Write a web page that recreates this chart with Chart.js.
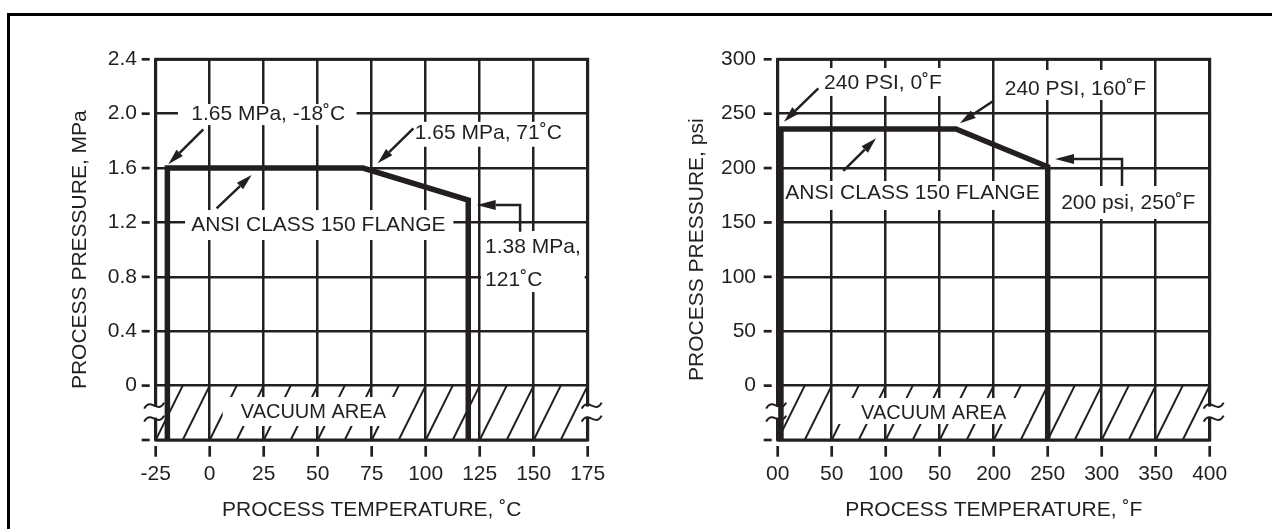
<!DOCTYPE html>
<html>
<head>
<meta charset="utf-8">
<script src="https://cdn.jsdelivr.net/npm/chart.js@4.4.1/dist/chart.umd.min.js"></script>
<style>
html, body { margin: 0; padding: 0; background: #fff; }
body { width: 1272px; height: 529px; position: relative; overflow: hidden; }
#frame { position: absolute; left: 7px; top: 13px; width: 1300px; height: 600px;
  border-left: 3px solid #000; border-top: 3px solid #000; box-sizing: border-box; }
canvas { position: absolute; top: 0; width: 636px; height: 529px; }
#c1 { left: 0; }
#c2 { left: 636px; }
</style>
</head>
<body>
<div id="frame"></div>
<canvas id="c1" width="636" height="529"></canvas>
<canvas id="c2" width="636" height="529"></canvas>
<script>
// ---------------- data ----------------
const celsiusTicks = [-25, 0, 25, 50, 75, 100, 125, 150, 175];
const celsiusTickLabels = ['-25', '0', '25', '50', '75', '100', '125', '150', '175'];
const mpaTicks = [-0.4, 0, 0.4, 0.8, 1.2, 1.6, 2.0, 2.4];
const mpaTickLabels = ['', '0', '0.4', '0.8', '1.2', '1.6', '2.0', '2.4'];

const fahrenheitTicks = [0, 50, 100, 150, 200, 250, 300, 350, 400];
const fahrenheitTickLabels = ['00', '50', '100', '50', '200', '250', '300', '350', '400'];
const psiTicks = [-50, 0, 50, 100, 150, 200, 250, 300];
const psiTickLabels = ['', '0', '50', '100', '150', '200', '250', '300'];

const flangeTempC = [-19.6, -19.6, 71, 119.7, 119.7];
const flangeMPa = [-0.4, 1.6, 1.6, 1.365, -0.4];
const flangeTempF = [3, 3, 165, 250, 250];
const flangePsi = [-50, 236, 236, 201.2, -50];

// ---------------- styling ----------------
const INK = '#231f20';
const FONT = '"Liberation Sans", Arial, Helvetica, sans-serif';
Chart.defaults.font.family = FONT;
Chart.defaults.color = INK;

// annotations (positions in data units of each chart)
const decorations = {
  c1: {
    hatchStep: 12.5,
    boxes: [[-14.7, 2.071, 68, 1.916], [91.8, 1.94, 166.8, 1.757], [-11.4, 1.291, 112.8, 1.071],
            [125.6, 1.137, 173.6, 0.688], [6, -0.084, 90, -0.297]],
    texts: [
      { text: '1.65 MPa, -18˚C', at: [27.1, 1.996], align: 'center' },
      { text: '1.65 MPa, 71˚C', at: [129, 1.855], align: 'center' },
      { text: 'ANSI CLASS 150 FLANGE', at: [50.3, 1.18], align: 'center' },
      { text: '1.38 MPa,', at: [127.5, 1.021], align: 'left' },
      { text: '121˚C', at: [127.5, 0.776], align: 'left' },
      { text: 'VACUUM AREA', at: [48, -0.2], align: 'center', size: 20 }
    ],
    arrows: [
      { pts: [[-2.96, 1.885], [-19.17, 1.629]], head: [16, 9] },
      { pts: [[94.3, 1.892], [77.8, 1.635]], head: [16, 9] },
      { pts: [[3.2, 1.304], [19.4, 1.549]], head: [16, 9] },
      { pts: [[143.7, 1.132], [143.7, 1.328], [123.6, 1.328]], head: [19, 10] }
    ]
  },
  c2: {
    hatchStep: 25,
    boxes: [[39.2, 292, 159.5, 266.3], [205.8, 290.2, 344.7, 262.6], [4.9, 188.1, 245.6, 161.5],
            [256.8, 183.5, 392.6, 153.2], [55, -11.4, 232, -35.3]],
    texts: [
      { text: '240 PSI, 0˚F', at: [97.5, 277.6], align: 'center' },
      { text: '240 PSI, 160˚F', at: [275.6, 272.5], align: 'center' },
      { text: 'ANSI CLASS 150 FLANGE', at: [124.8, 177.1], align: 'center' },
      { text: '200 psi, 250˚F', at: [324.6, 167.3], align: 'center' },
      { text: 'VACUUM AREA', at: [144.4, -25.2], align: 'center', size: 20 }
    ],
    arrows: [
      { pts: [[37.6, 273.3], [5.8, 242.6]], head: [16, 9] },
      { pts: [[200.3, 262.2], [168.7, 241.3]], head: [16, 9] },
      { pts: [[60.7, 197.4], [91.1, 227.4]], head: [16, 9] },
      { pts: [[318.8, 183.5], [318.8, 208.3], [256.8, 208.3]], head: [19, 10] }
    ]
  }
};

function drawArrow(ctx, pts, len, wid) {
  const n = pts.length;
  const tip = pts[n - 1], prev = pts[n - 2];
  const ang = Math.atan2(tip[1] - prev[1], tip[0] - prev[0]);
  const c = Math.cos(ang), s = Math.sin(ang);
  const bx = tip[0] - len * c, by = tip[1] - len * s;
  ctx.beginPath();
  ctx.moveTo(pts[0][0], pts[0][1]);
  for (let i = 1; i < n - 1; i++) ctx.lineTo(pts[i][0], pts[i][1]);
  ctx.lineTo(bx, by);
  ctx.stroke();
  ctx.beginPath();
  ctx.moveTo(tip[0], tip[1]);
  ctx.lineTo(bx + (wid / 2) * s, by - (wid / 2) * c);
  ctx.lineTo(bx - (wid / 2) * s, by + (wid / 2) * c);
  ctx.closePath();
  ctx.fill();
}

function tilde(ctx, cx, cy, w) {
  ctx.beginPath();
  ctx.moveTo(cx - w / 2, cy + 3);
  ctx.bezierCurveTo(cx - w / 6, cy - 9, cx + w / 6, cy + 9, cx + w / 2, cy - 3);
  ctx.stroke();
}

const decorPlugin = {
  id: 'decor',
  beforeDatasetsDraw(chart) {
    const d = decorations[chart.canvas.id];
    const { ctx, chartArea: ca } = chart;
    const xs = chart.scales.x, ys = chart.scales.y;
    const P = (x, y) => [xs.getPixelForValue(x), ys.getPixelForValue(y)];
    ctx.save();
    // hatch of the vacuum area
    ctx.beginPath();
    ctx.rect(ca.left, ca.top, ca.right - ca.left, ca.bottom - ca.top);
    ctx.clip();
    ctx.strokeStyle = INK;
    ctx.lineWidth = 2;
    for (let t = xs.min; t <= xs.max; t += d.hatchStep) {
      ctx.beginPath();
      ctx.moveTo(xs.getPixelForValue(t), ys.getPixelForValue(ys.min));
      ctx.lineTo(xs.getPixelForValue(t + d.hatchStep), ys.getPixelForValue(0));
      ctx.stroke();
    }
    ctx.restore();
    ctx.save();
    // plot frame
    ctx.strokeStyle = INK;
    ctx.lineWidth = 3;
    ctx.strokeRect(ca.left, ca.top, ca.right - ca.left, ca.bottom - ca.top);
    // white label boxes
    ctx.fillStyle = '#fff';
    d.boxes.forEach(b => {
      const [x1, y1] = P(b[0], b[1]);
      const [x2, y2] = P(b[2], b[3]);
      ctx.fillRect(Math.min(x1, x2), Math.min(y1, y2), Math.abs(x2 - x1), Math.abs(y2 - y1));
    });
    // break gaps in the frame
    const y0 = ys.getPixelForValue(0);
    [ca.left, ca.right].forEach(x => ctx.fillRect(x - 3, y0 + 21, 6, 11));
    ctx.restore();
  },
  afterDatasetsDraw(chart) {
    const d = decorations[chart.canvas.id];
    const { ctx, chartArea: ca } = chart;
    const xs = chart.scales.x, ys = chart.scales.y;
    const P = p => [xs.getPixelForValue(p[0]), ys.getPixelForValue(p[1])];
    ctx.save();
    ctx.fillStyle = INK;
    ctx.strokeStyle = INK;
    ctx.textBaseline = 'middle';
    d.texts.forEach(t => {
      ctx.font = (t.size || 21) + 'px ' + FONT;
      ctx.textAlign = t.align;
      const [x, y] = P(t.at);
      ctx.fillText(t.text, x, y);
    });
    ctx.lineWidth = 2.5;
    ctx.lineJoin = 'miter';
    d.arrows.forEach(a => drawArrow(ctx, a.pts.map(P), a.head[0], a.head[1]));
    // detached tick marks
    ctx.lineWidth = 2.7;
    ctx.lineCap = 'butt';
    ys.ticks.forEach(t => {
      const y = ys.getPixelForValue(t.value);
      ctx.beginPath(); ctx.moveTo(ca.left - 14, y); ctx.lineTo(ca.left - 6, y); ctx.stroke();
    });
    xs.ticks.forEach(t => {
      const x = xs.getPixelForValue(t.value);
      ctx.beginPath(); ctx.moveTo(x, ca.bottom + 6); ctx.lineTo(x, ca.bottom + 16.7); ctx.stroke();
    });
    // break symbols
    ctx.lineWidth = 2;
    const y0 = ys.getPixelForValue(0);
    [ca.left - 1.5, ca.right + 4].forEach(x => {
      tilde(ctx, x, y0 + 20, 20);
      tilde(ctx, x, y0 + 33, 20);
    });
    ctx.restore();
  }
};

function makeChart(id, cfg) {
  const grid = { color: INK, lineWidth: 2.5, drawTicks: false };
  return new Chart(document.getElementById(id), {
    type: 'line',
    data: {
      datasets: [{
        data: cfg.xs.map((x, i) => ({ x: x, y: cfg.ys[i] })),
        borderColor: INK, borderWidth: 5.5, pointRadius: 0, fill: false, tension: 0,
        borderJoinStyle: 'miter', borderCapStyle: 'butt'
      }]
    },
    options: {
      responsive: false, animation: false, devicePixelRatio: 1,
      layout: { padding: { top: 59.3, right: cfg.padRight, bottom: 0, left: 0 } },
      plugins: { legend: { display: false }, tooltip: { enabled: false } },
      events: [],
      scales: {
        x: {
          type: 'linear', position: 'bottom',
          min: cfg.xTicks[0], max: cfg.xTicks[cfg.xTicks.length - 1],
          afterBuildTicks: s => { s.ticks = cfg.xTicks.map(v => ({ value: v })); },
          afterFit: s => { s.height = 89; },
          ticks: { autoSkip: false, maxRotation: 0, minRotation: 0, padding: 21.4,
                   font: { size: 21 }, color: INK, callback: (v, i) => cfg.xLabels[i] },
          grid: grid, border: { display: false },
          title: { display: true, text: cfg.xTitle, color: INK,
                   font: { size: 21, lineHeight: 1 }, padding: { top: 0, bottom: 8.5 } }
        },
        y: {
          type: 'linear', position: 'left',
          min: cfg.yTicks[0], max: cfg.yTicks[cfg.yTicks.length - 1],
          afterBuildTicks: s => { s.ticks = cfg.yTicks.map(v => ({ value: v })); },
          afterFit: s => { s.width = cfg.yAxisWidth; },
          ticks: { autoSkip: false, padding: cfg.yPad, font: { size: 21 }, color: INK,
                   callback: (v, i) => cfg.yLabels[i] },
          grid: grid, border: { display: false },
          title: { display: true, text: cfg.yTitle, color: INK,
                   font: { size: 21, lineHeight: 1 }, padding: { top: cfg.yTitlePad, bottom: 0 } }
        }
      }
    },
    plugins: [decorPlugin]
  });
}

makeChart('c1', {
  xs: flangeTempC, ys: flangeMPa,
  xTicks: celsiusTicks, xLabels: celsiusTickLabels,
  yTicks: mpaTicks, yLabels: mpaTickLabels,
  xTitle: 'PROCESS TEMPERATURE, ˚C', yTitle: 'PROCESS PRESSURE, MPa',
  padRight: 48.3, yAxisWidth: 155.7, yPad: 18.7, yTitlePad: 69.5
});
makeChart('c2', {
  xs: flangeTempF, ys: flangePsi,
  xTicks: fahrenheitTicks, xLabels: fahrenheitTickLabels,
  yTicks: psiTicks, yLabels: psiTickLabels,
  xTitle: 'PROCESS TEMPERATURE, ˚F', yTitle: 'PROCESS PRESSURE, psi',
  padRight: 62.3, yAxisWidth: 141.7, yPad: 21.7, yTitlePad: 51.2
});
</script>
</body>
</html>
